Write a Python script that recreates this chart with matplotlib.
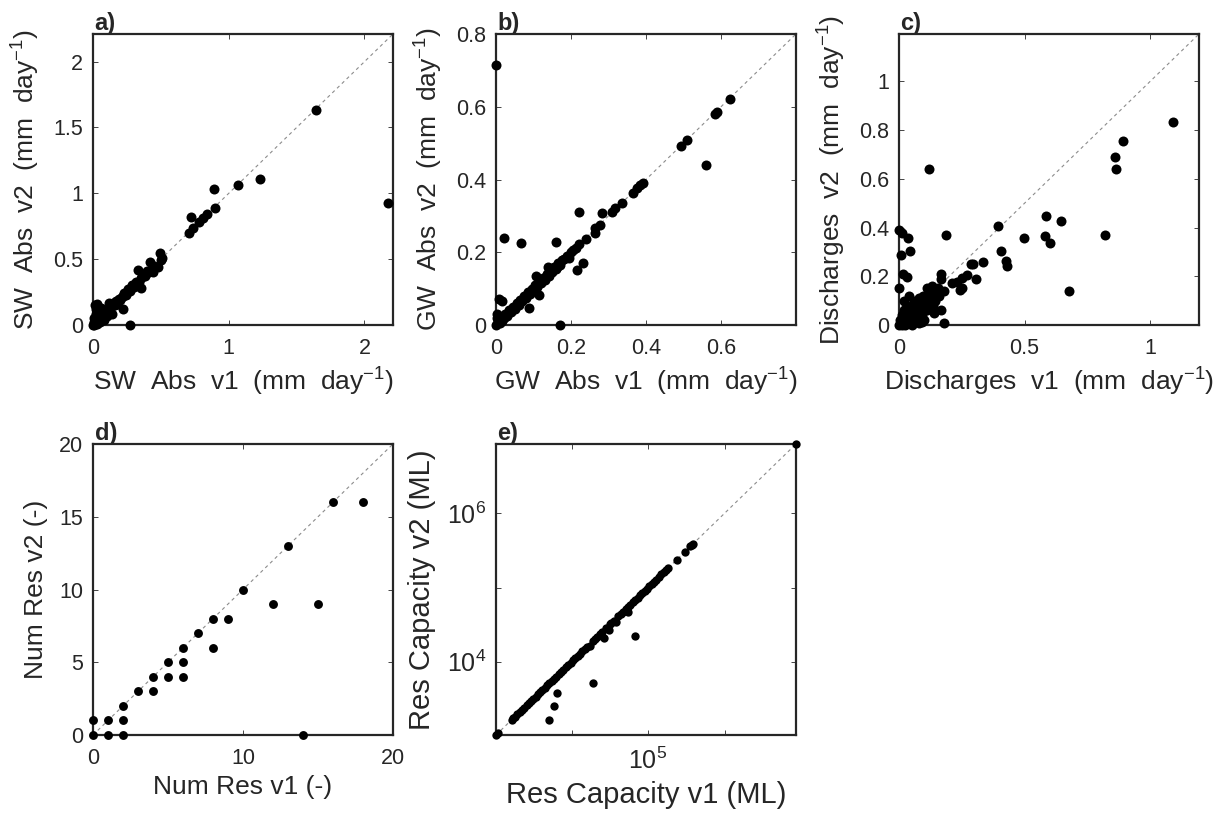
import matplotlib
matplotlib.use("Agg")
import matplotlib.pyplot as plt
from matplotlib.ticker import FuncFormatter, NullLocator, FixedLocator

plt.rcParams['font.family'] = ['Liberation Sans', 'DejaVu Sans']
plt.rcParams['mathtext.fontset'] = 'custom'
plt.rcParams['mathtext.rm'] = 'Liberation Sans'
plt.rcParams['mathtext.it'] = 'Liberation Sans:italic'
plt.rcParams['mathtext.bf'] = 'Liberation Sans:bold'

# ---------------- data ----------------
# a) SW abstractions (mm/day)
sw_v1 = [0.00, 0.005, 0.01, 0.01, 0.015, 0.02, 0.02, 0.025, 0.03, 0.03, 0.04, 0.04, 0.05, 0.05,
         0.06, 0.06, 0.07, 0.08, 0.08, 0.09, 0.10, 0.10, 0.11, 0.12, 0.12, 0.13, 0.14, 0.14, 0.15,
         0.16, 0.17, 0.18, 0.19, 0.20, 0.21, 0.22, 0.22, 0.23, 0.24, 0.25, 0.26, 0.27, 0.27, 0.28,
         0.29, 0.30, 0.31, 0.32, 0.33, 0.34, 0.35, 0.35, 0.37, 0.38, 0.40, 0.41, 0.42, 0.43, 0.445,
         0.45, 0.48, 0.49, 0.50, 0.51, 0.71, 0.72, 0.74, 0.78, 0.81, 0.84, 0.89, 0.90, 1.07, 1.23,
         1.64, 2.17]
sw_v2 = [0.00, 0.02, 0.00, 0.05, 0.15, 0.12, 0.03, 0.08, 0.01, 0.16, 0.04, 0.10, 0.02, 0.06,
         0.05, 0.13, 0.08, 0.04, 0.09, 0.10, 0.07, 0.11, 0.12, 0.17, 0.10, 0.14, 0.08, 0.15, 0.17,
         0.15, 0.18, 0.16, 0.20, 0.19, 0.21, 0.12, 0.22, 0.24, 0.23, 0.25, 0.27, 0.00, 0.26, 0.28,
         0.30, 0.29, 0.31, 0.33, 0.42, 0.33, 0.28, 0.36, 0.38, 0.37, 0.41, 0.40, 0.48, 0.42, 0.405,
         0.45, 0.44, 0.55, 0.49, 0.51, 0.70, 0.82, 0.74, 0.78, 0.81, 0.84, 1.035, 0.89, 1.06, 1.11,
         1.63, 0.93]

# b) GW abstractions (mm/day)
gw_v1 = [0.000, 0.003, 0.005, 0.002, 0.008, 0.017, 0.010, 0.012, 0.015, 0.020, 0.025, 0.030,
         0.035, 0.040, 0.045, 0.050, 0.055, 0.060, 0.065, 0.070, 0.075, 0.080, 0.085, 0.088,
         0.090, 0.095, 0.100, 0.105, 0.106, 0.110, 0.114, 0.115, 0.120, 0.125, 0.130, 0.135,
         0.138, 0.140, 0.145, 0.150, 0.155, 0.160, 0.162, 0.165, 0.170, 0.171, 0.175, 0.182,
         0.190, 0.194, 0.200, 0.205, 0.214, 0.215, 0.220, 0.231, 0.240, 0.263, 0.265, 0.278,
         0.283, 0.310, 0.316, 0.337, 0.366, 0.375, 0.383, 0.392, 0.494, 0.510, 0.560, 0.583,
         0.590, 0.625, 0.000, 0.021, 0.066, 0.160, 0.220]
gw_v2 = [0.000, 0.020, 0.010, 0.030, 0.071, 0.066, 0.005, 0.015, 0.010, 0.020, 0.030, 0.025,
         0.040, 0.035, 0.050, 0.045, 0.060, 0.055, 0.070, 0.065, 0.080, 0.075, 0.090, 0.046,
         0.085, 0.100, 0.095, 0.110, 0.135, 0.105, 0.082, 0.120, 0.115, 0.130, 0.125, 0.140,
         0.160, 0.135, 0.150, 0.145, 0.160, 0.155, 0.160, 0.170, 0.165, 0.000, 0.180, 0.182,
         0.190, 0.183, 0.200, 0.205, 0.211, 0.151, 0.222, 0.170, 0.237, 0.266, 0.252, 0.274,
         0.308, 0.310, 0.323, 0.336, 0.364, 0.376, 0.385, 0.391, 0.492, 0.509, 0.440, 0.580,
         0.585, 0.621, 0.714, 0.238, 0.226, 0.229, 0.311]

# c) Discharges (mm/day)
dis_v1 = [0.000, 0.005, 0.010, 0.010, 0.015, 0.020, 0.020, 0.025, 0.030, 0.030, 0.035, 0.040,
          0.045, 0.050, 0.050, 0.055, 0.060, 0.060, 0.065, 0.070, 0.070, 0.075, 0.080, 0.080,
          0.085, 0.090, 0.095, 0.100, 0.105, 0.110, 0.115, 0.120, 0.125, 0.130, 0.135, 0.140,
          0.145, 0.150, 0.155, 0.160, 0.167, 0.180, 0.000, 0.015, 0.033, 0.008, 0.044, 0.035,
          0.001, 0.013, 0.120, 0.187, 0.167, 0.169, 0.211, 0.231, 0.251, 0.271, 0.251, 0.244,
          0.307, 0.288, 0.293, 0.336, 0.395, 0.407, 0.427, 0.429, 0.499, 0.581, 0.600, 0.587,
          0.644, 0.677, 0.821, 0.859, 0.863, 0.893, 1.093, 0.090, 0.110, 0.130, 0.180, 0.040,
          0.020, 0.100, 0.140]
dis_v2 = [0.000, 0.020, 0.000, 0.040, 0.010, 0.060, 0.020, 0.000, 0.030, 0.080, 0.010, 0.050,
          0.020, 0.000, 0.070, 0.040, 0.100, 0.020, 0.060, 0.030, 0.090, 0.050, 0.010, 0.110,
          0.070, 0.040, 0.120, 0.080, 0.100, 0.060, 0.130, 0.090, 0.110, 0.140, 0.080, 0.120,
          0.100, 0.130, 0.150, 0.120, 0.062, 0.007, 0.151, 0.209, 0.196, 0.286, 0.305, 0.356,
          0.390, 0.377, 0.641, 0.371, 0.209, 0.190, 0.171, 0.178, 0.194, 0.205, 0.151, 0.144,
          0.188, 0.250, 0.250, 0.260, 0.408, 0.305, 0.263, 0.244, 0.357, 0.367, 0.335, 0.449,
          0.427, 0.141, 0.371, 0.691, 0.641, 0.754, 0.835, 0.014, 0.150, 0.160, 0.140, 0.120,
          0.100, 0.020, 0.050]

# d) Number of reservoirs (-)
nres_v1 = [16, 18, 13, 10, 12, 15, 8, 9, 7, 6, 8, 5, 6, 4, 5, 6, 3, 4, 2, 0, 1, 2, 0, 1, 2, 14]
nres_v2 = [16, 16, 13, 10, 9, 9, 8, 8, 7, 6, 6, 5, 5, 4, 4, 4, 3, 3, 2, 1, 1, 1, 0, 0, 0, 0]

# e) Reservoir capacity (ML)
cap_v1 = [1030, 1090, 1650, 1720, 1800, 1950, 2100, 2250, 2400, 2600, 2750, 2950, 3150, 3400,
          3650, 3900, 4150, 4450, 4800, 5100, 5500, 5900, 6300, 6800, 7300, 7800, 8400, 9000,
          9700, 10400, 11200, 12000, 12900, 13800, 14900, 16000, 17500, 18900, 20200, 21800,
          23500, 25300, 26900, 28500, 30700, 31800, 33000, 35500, 38000, 41000, 44400, 47500,
          51000, 55000, 59000, 63500, 68000, 73000, 78500, 84000, 90000, 97000, 104000, 112000,
          120000, 128000, 138000, 150000, 160000, 174000, 185000, 237000, 300000, 358000,
          375000, 390000, 55200, 68000, 6500, 5960, 5100, 18900, 8600000]
cap_v2 = [1030, 1090, 1650, 1720, 1800, 1950, 2100, 2250, 2400, 2600, 2750, 2950, 3150, 3400,
          3650, 3900, 4150, 4450, 4800, 5100, 5500, 5900, 6300, 6800, 7300, 7800, 8400, 9000,
          9700, 10400, 11200, 12000, 12900, 13800, 14900, 16000, 16100, 18900, 20200, 21800,
          23500, 25300, 20800, 28500, 26400, 31800, 33000, 35500, 34200, 41000, 44400, 47500,
          51000, 46600, 59000, 63500, 68000, 73000, 78500, 84000, 90000, 97000, 104000, 112000,
          120000, 128000, 138000, 150000, 160000, 174000, 185000, 237000, 300000, 358000,
          375000, 390000, 55200, 22000, 3740, 2520, 1640, 5100, 8600000]

panel_letters = ['a)', 'b)', 'c)', 'd)', 'e)']
x_labels = ['SW  Abs  v1  (mm  day$^{-1}$)', 'GW  Abs  v1  (mm  day$^{-1}$)',
            'Discharges  v1  (mm  day$^{-1}$)', 'Num Res v1 (-)', 'Res Capacity v1 (ML)']
y_labels = ['SW  Abs  v2  (mm  day$^{-1}$)', 'GW  Abs  v2  (mm  day$^{-1}$)',
            'Discharges  v2  (mm  day$^{-1}$)', 'Num Res v2 (-)', 'Res Capacity v2 (ML)']
limits = [(0, 2.21), (0, 0.8), (0, 1.195), (0, 20), (1030, 8.6e6)]
xticks = [[0, 1, 2], [0, 0.2, 0.4, 0.6], [0, 0.5, 1], [0, 10, 20], [1e4, 1e5, 1e6]]
yticks = [[0, 0.5, 1, 1.5, 2], [0, 0.2, 0.4, 0.6, 0.8], [0, 0.2, 0.4, 0.6, 0.8, 1],
          [0, 5, 10, 15, 20], [1e4, 1e5, 1e6]]

datasets = [(sw_v1, sw_v2), (gw_v1, gw_v2), (dis_v1, dis_v2), (nres_v1, nres_v2), (cap_v1, cap_v2)]

W, H = 1226, 814
fig = plt.figure(figsize=(W / 100, H / 100), dpi=100)
fc = '#262626'

boxes = [(93, 34), (496, 34), (899, 34), (93, 444), (496, 444)]
aw, ah = 300, 291

fmt = FuncFormatter(lambda v, p: '%g' % v)

for i, ((x0, y0), (xv, yv)) in enumerate(zip(boxes, datasets)):
    ax = fig.add_axes([x0 / W, 1 - (y0 + ah) / H, aw / W, ah / H])
    lo, hi = limits[i]
    if i == 4:
        ax.set_xscale('log')
        ax.set_yscale('log')
    ax.plot([lo, hi], [lo, hi], linestyle=(0, (3, 3)), color='#8c8c8c', lw=0.8, zorder=1)
    ms = 7.2 if i < 3 else (6.4 if i == 3 else 6.0)
    ax.plot(xv, yv, 'o', color='black', ms=ms, mec='black', mew=0, zorder=3, clip_on=False)
    ax.set_xlim(lo, hi)
    ax.set_ylim(lo, hi)
    ax.xaxis.set_major_locator(FixedLocator(xticks[i]))
    ax.yaxis.set_major_locator(FixedLocator(yticks[i]))
    ax.xaxis.set_minor_locator(NullLocator())
    ax.yaxis.set_minor_locator(NullLocator())
    if i == 4:
        ax.xaxis.set_major_formatter(FuncFormatter(
            lambda v, p: '$10^{5}$' if abs(v - 1e5) < 1 else ''))
        ax.yaxis.set_major_formatter(FuncFormatter(
            lambda v, p: '$10^{4}$' if abs(v - 1e4) < 1 else ('$10^{6}$' if abs(v - 1e6) < 1 else '')))
        tsize, lsize = 18, 21
    else:
        ax.xaxis.set_major_formatter(fmt)
        ax.yaxis.set_major_formatter(fmt)
        tsize, lsize = 15.5, 19
    ax.tick_params(direction='in', length=3.5, width=0.6, colors=fc, labelsize=tsize,
                   top=True, right=True, labelcolor=fc)
    ax.tick_params(axis='x', pad=9)
    ax.tick_params(axis='y', pad=7)
    for s in ax.spines.values():
        s.set_linewidth(1.6)
        s.set_color(fc)
    ax.set_xlabel(x_labels[i], fontsize=lsize, color=fc, labelpad=5)
    ax.set_ylabel(y_labels[i], fontsize=lsize, color=fc, labelpad=8)
    ax.text(0.005, 0.995, panel_letters[i], transform=ax.transAxes, ha='left', va='bottom',
            fontsize=17, fontweight='bold', color=fc)

fig.savefig('out.png', dpi=100)
